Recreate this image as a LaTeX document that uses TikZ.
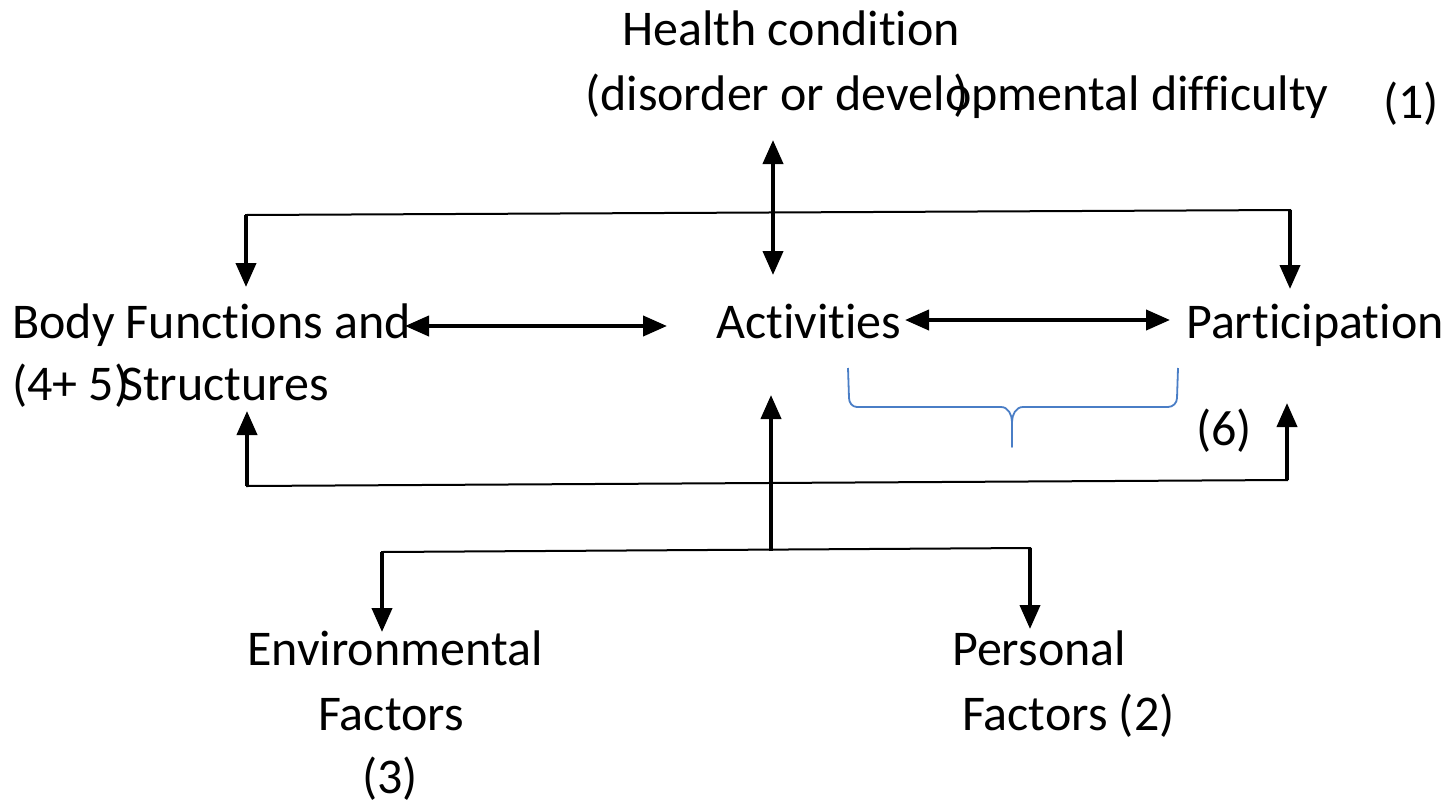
\documentclass[tikz,border=0pt]{standalone}
\usepackage{fontspec}
\setmainfont{Carlito}[Ligatures={NoCommon}]
\usetikzlibrary{arrows.meta}
\definecolor{braceblue}{HTML}{4A7EC6}
\tikzset{
  txt/.style={inner sep=0pt, anchor=base west, font=\fontsize{50}{60}\selectfont},
  link/.style={line width=2pt, line cap=rect},
  arr/.style={line width=4pt, -{Triangle[width=20pt,length=24pt]}},
  darr/.style={line width=4pt, {Triangle[width=20pt,length=24pt]}-{Triangle[width=20pt,length=24pt]}},
  brace/.style={draw=braceblue, line width=1.8pt, line join=round}
}
\begin{document}
\begin{tikzpicture}[x=1pt,y=-1pt]
\useasboundingbox (0,0) rectangle (1450,806);
% texts
\node[txt] (hc) at (622,45) {Health condition};
\node[txt] (hc2) at (585,110) {(disorder or developmental difficulty};
\node[txt] (hcp) at (953,110) {)};
\node[txt] (n1) at (1383,118) {(1)};
\node[txt] (bf) at (12,338) {Body Functions and};
\node[txt] (bf2) at (12,400) {(4+ 5};
\node[txt] (bfp) at (114,400) {)};
\node[txt] (bf3) at (120,400) {Structures};
\node[txt] (act) at (716,338) {Activities};
\node[txt] (par) at (1186,338) {Participation};
\node[txt] (n6) at (1196,445) {(6)};
\node[txt, anchor=base] (env) at (395,665) {Environmental};
\node[txt, anchor=base] (env2) at (391,730) {Factors};
\node[txt, anchor=base] (env3) at (390,793) {(3)};
\node[txt] (per) at (952,665) {Personal};
\node[txt] (per2) at (962,730) {Factors (2)};
% coordinates
\coordinate (hcTop) at (773,140);
\coordinate (actTop) at (773,275);
\coordinate (tl) at (246,215);
\coordinate (tr) at (1290,210);
\coordinate (tlEnd) at (246,287);
\coordinate (trEnd) at (1290,289);
\coordinate (bl) at (247,486);
\coordinate (br) at (1287,480);
\coordinate (blEnd) at (247,411);
\coordinate (brEnd) at (1287,403);
\coordinate (cb) at (771,551);
\coordinate (cbEnd) at (771,395);
\coordinate (ll) at (382,552);
\coordinate (lr) at (1030,548);
\coordinate (llEnd) at (382,632);
\coordinate (lrEnd) at (1030,629);
\coordinate (h1a) at (405,326);
\coordinate (h1b) at (667,326);
\coordinate (h2a) at (905,320);
\coordinate (h2b) at (1170,320);
% connectors
\draw[darr] (hcTop) -- (actTop);
\draw[link] (tl) -- (tr);
\draw[arr] (tl) -- (tlEnd);
\draw[arr] (tr) -- (trEnd);
\draw[darr] (h1a) -- (h1b);
\draw[darr] (h2a) -- (h2b);
\draw[link] (bl) -- (br);
\draw[arr] (bl) -- (blEnd);
\draw[arr] (br) -- (brEnd);
\draw[arr] (cb) -- (cbEnd);
\draw[link] (ll) -- (lr);
\draw[arr] (ll) -- (llEnd);
\draw[arr] (lr) -- (lrEnd);
% brace
\draw[brace] (848,368) -- (849,398) to[out=-90,in=180] (857,407) -- (1001,407)
  to[out=0,in=90] (1012,422) -- (1012,447) -- (1012,422) to[out=90,in=180] (1023,407)
  -- (1168,407) to[out=0,in=-90] (1177,398) -- (1178,368);
\end{tikzpicture}
\end{document}
